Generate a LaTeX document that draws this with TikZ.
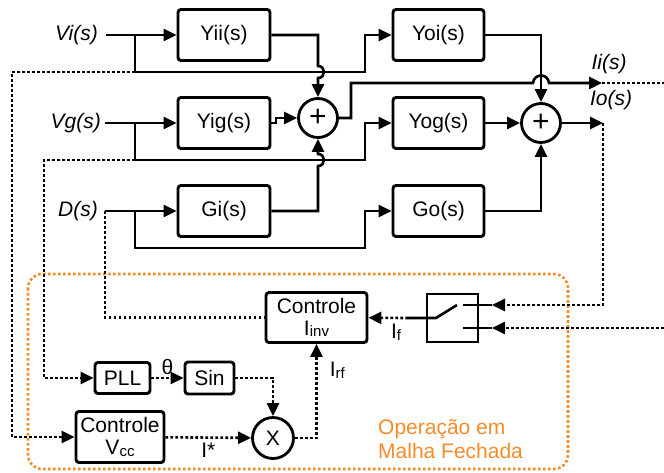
\documentclass[tikz,border=0pt]{standalone}
\usepackage{fontspec}
\setmainfont{Liberation Sans}
\usetikzlibrary{arrows.meta}
\definecolor{opor}{RGB}{245,140,40}
\newcommand{\lowsub}[1]{\raisebox{-1.5pt}{\fontsize{15}{15}\selectfont #1}}

\begin{document}
\begin{tikzpicture}[
  x=1pt, y=-1pt,
  font=\fontsize{21}{22}\selectfont,
  blk/.style={draw, rounded corners=3pt, line width=2.9pt, minimum width=92pt, minimum height=51pt, inner sep=1pt, align=center},
  sumnode/.style={draw, circle, line width=2.8pt, minimum size=39pt, inner sep=0pt},
  swbox/.style={draw, line width=2.9pt, minimum width=51pt, minimum height=48pt, inner sep=0pt},
  sig/.style={line width=2.6pt},
  arrow/.style={sig, -{Triangle[length=13pt, width=12pt]}},
  dot/.style={line width=2.6pt, dash pattern=on 2.6pt off 2.4pt},
  darrow/.style={dot, -{Triangle[length=13pt, width=12pt]}},
  lbl/.style={font=\fontsize{21}{22}\selectfont\itshape, inner sep=0pt},
  txt/.style={inner sep=2pt}
]
\useasboundingbox (0,0) rectangle (664,472);

\draw[opor, dot, rounded corners=14pt] (28,274) rectangle (568,469);
\node[txt, anchor=west, align=left, text=opor, font=\fontsize{21}{24}\selectfont] (malha) at (376,439) {Operação em\\Malha Fechada};

\node[blk] (yii) at (224,35) {Yii(s)};
\node[blk] (yig) at (224,123) {Yig(s)};
\node[blk] (gi) at (224,211) {Gi(s)};
\node[blk, minimum width=91pt] (yoi) at (438.5,35) {Yoi(s)};
\node[blk, minimum width=91pt] (yog) at (438.5,123) {Yog(s)};
\node[blk, minimum width=91pt] (go) at (438.5,211) {Go(s)};
\node[sumnode] (sum1) at (318,118) {\fontsize{30}{30}\selectfont +};
\node[sumnode] (sum2) at (541,123) {\fontsize{30}{30}\selectfont +};

\node[blk, minimum width=101pt, minimum height=50pt] (cinv) at (316.5,317.5) {Controle\\I\lowsub{inv}};
\node[swbox] (sw) at (452.5,318) {};
\node[blk, minimum width=55pt, minimum height=31pt] (pll) at (122.5,378) {PLL};
\node[blk, minimum width=49pt, minimum height=32pt] (sin) at (209.5,378) {Sin};
\node[blk, minimum width=88pt] (cvcc) at (120,437) {Controle\\V\lowsub{cc}};
\node[sumnode, minimum size=41pt] (mult) at (273,438) {X};

\coordinate (vi) at (106,35);
\coordinate (vg) at (105,123);
\coordinate (ds) at (105,211);
\coordinate (jvi) at (135,35);
\coordinate (jvg) at (135,123);
\coordinate (jd) at (135,211);
\coordinate (kvi) at (135,72);
\coordinate (kvg) at (135,160);
\coordinate (rvi) at (365,72);
\coordinate (rvg) at (365,160);
\coordinate (rd) at (365,248);
\coordinate (ii) at (602,83);
\coordinate (io) at (603,123);
\coordinate (iiend) at (664,83);
\coordinate (grid) at (664,328);
\coordinate (swin) at (408,318);
\coordinate (swhi) at (492,305);
\coordinate (swlo) at (492,328);

\node[lbl, anchor=east] (vilbl) at (98,35) {Vi(s)};
\node[lbl, anchor=east] (vglbl) at (101,123) {Vg(s)};
\node[lbl, anchor=east] (dslbl) at (98,211) {D(s)};
\node[lbl] (iilbl) at (609,64) {Ii(s)};
\node[lbl] (iolbl) at (611,100) {Io(s)};

\draw[arrow] (vi) -- (yii);
\draw[arrow] (vg) -- (yig);
\draw[arrow] (ds) -- (gi);
\draw[arrow] (jvi) |- (rvi) |- (yoi);
\draw[arrow] (jvg) |- (rvg) |- (yog);
\draw[arrow] (jd) |- (rd) |- (go);

\draw[arrow] (yii.east) -- (318,35) -- (318,66) .. controls (326,66) and (326,78) .. (318,78) -- (sum1.north);
\draw[arrow] (yig.east) -| (276,118) -- (sum1.west);
\draw[arrow] (gi.east) -- (318,211) -- (318,166) .. controls (326,166) and (326,154) .. (318,154) -- (sum1.south);
\draw[arrow] (sum1.east) -- (351,118) -- (351,83) -- (533,83) .. controls (534,73) and (548,73) .. (549,83) -- (ii);

\draw[arrow] (yoi.east) -| (sum2.north);
\draw[arrow] (yog) -- (sum2);
\draw[arrow] (go.east) -| (sum2.south);
\draw[arrow] (sum2) -- (io);

\draw[dot] (ii) -- (iiend);
\draw[darrow] (io) |- (swhi);
\draw[darrow] (grid) -- (swlo);
\draw[sig] (swin) -- (436,318) -- (457,305);
\draw[sig] (463,305) -- (swhi);
\draw[sig] (463,328) -- (swlo);
\draw[darrow] (swin) -- node[txt, pos=0.3, below=3pt] (iflbl) {I\lowsub{f}} (cinv);

\draw[dot] (ds) |- (cinv);
\draw[darrow] (kvi) -| (12,437) -- (cvcc);
\draw[darrow] (kvg) -| (44,378) -- (pll);
\draw[darrow] (pll) -- node[txt, above=0pt] (thlbl) {θ} (sin);
\draw[darrow] (sin) -| (mult);
\draw[darrow] (cvcc) -- node[txt, below=2pt] (istar) {I*} (mult);
\draw[darrow] (mult) -| node[txt, pos=0.86, right=10pt] (irflbl) {I\lowsub{rf}} (cinv);

\end{tikzpicture}
\end{document}
